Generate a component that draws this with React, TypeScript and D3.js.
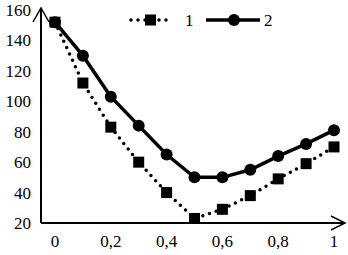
import { useEffect, useRef } from 'react';
import * as d3 from 'd3';

const xValues = [0, 0.1, 0.2, 0.3, 0.4, 0.5, 0.6, 0.7, 0.8, 0.9, 1];
const series1 = [152, 112, 83, 60, 40, 23, 29, 38, 49, 59, 70];
const series2 = [152, 130, 103, 84, 65, 50, 50, 55, 64, 72, 81];
const xTicks = [0, 0.2, 0.4, 0.6, 0.8, 1];
const yTicks = [20, 40, 60, 80, 100, 120, 140, 160];
const seriesNames = ['1', '2'];

export default function App() {
  const ref = useRef<SVGSVGElement>(null);

  useEffect(() => {
    const width = 348;
    const height = 255;
    const svg = d3.select(ref.current);
    svg.selectAll('*').remove();

    const x = d3.scaleLinear().domain([0, 1]).range([55, 334]);
    const y = d3.scaleLinear().domain([20, 160]).range([223, 10]);
    const font = '"Times New Roman", Times, "DejaVu Serif", serif';

    // axes with arrows
    const axisX = 41;
    const axisY = y(20);
    svg.append('line').attr('x1', axisX).attr('x2', axisX).attr('y1', axisY).attr('y2', 8)
      .attr('stroke', '#000').attr('stroke-width', 2);
    svg.append('path').attr('d', `M${axisX - 8},${22} L${axisX},${8} L${axisX + 8},${22}`)
      .attr('fill', 'none').attr('stroke', '#000').attr('stroke-width', 1.5);
    svg.append('line').attr('x1', axisX).attr('x2', 345).attr('y1', axisY).attr('y2', axisY)
      .attr('stroke', '#000').attr('stroke-width', 2);
    svg.append('path').attr('d', `M${331},${axisY - 7} L${345},${axisY} L${331},${axisY + 7}`)
      .attr('fill', 'none').attr('stroke', '#000').attr('stroke-width', 1.5);

    svg.append('g').selectAll('text').data(yTicks).join('text')
      .attr('x', 31).attr('y', d => y(d)).attr('dy', '0.35em')
      .attr('text-anchor', 'end').style('font-family', font).style('font-size', '17px')
      .text(d => d);
    svg.append('g').selectAll('text').data(xTicks).join('text')
      .attr('x', d => x(d)).attr('y', 247)
      .attr('text-anchor', 'middle').style('font-family', font).style('font-size', '17px')
      .text(d => d3.format('')(d).replace('.', ','));

    const line = d3.line<number>().x((_, i) => x(xValues[i])).y(d => y(d));

    // series 1: dotted with squares
    svg.append('path').datum(series1).attr('d', line).attr('fill', 'none')
      .attr('stroke', '#000').attr('stroke-width', 3.5)
      .attr('stroke-dasharray', '0 7').attr('stroke-linecap', 'round');
    svg.append('g').selectAll('rect').data(series1).join('rect')
      .attr('x', (_, i) => x(xValues[i]) - 5.5).attr('y', d => y(d) - 5.5)
      .attr('width', 11).attr('height', 11).attr('fill', '#000');

    // series 2: solid with circles
    svg.append('path').datum(series2).attr('d', line).attr('fill', 'none')
      .attr('stroke', '#000').attr('stroke-width', 3.5);
    svg.append('g').selectAll('circle').data(series2).join('circle')
      .attr('cx', (_, i) => x(xValues[i])).attr('cy', d => y(d)).attr('r', 6)
      .attr('fill', '#000');

    // legend
    const ly = 20;
    const leg = svg.append('g');
    leg.append('line').attr('x1', 131).attr('x2', 172).attr('y1', ly).attr('y2', ly)
      .attr('stroke', '#000').attr('stroke-width', 3.5)
      .attr('stroke-dasharray', '0 7').attr('stroke-linecap', 'round');
    leg.append('rect').attr('x', 145).attr('y', ly - 5.5).attr('width', 11).attr('height', 11).attr('fill', '#000');
    leg.append('text').attr('x', 185).attr('y', ly).attr('dy', '0.35em')
      .style('font-family', font).style('font-size', '17px').text(seriesNames[0]);
    leg.append('line').attr('x1', 206).attr('x2', 260).attr('y1', ly).attr('y2', ly)
      .attr('stroke', '#000').attr('stroke-width', 3.5);
    leg.append('circle').attr('cx', 234).attr('cy', ly).attr('r', 6).attr('fill', '#000');
    leg.append('text').attr('x', 264).attr('y', ly).attr('dy', '0.35em')
      .style('font-family', font).style('font-size', '17px').text(seriesNames[1]);

    svg.attr('width', width).attr('height', height);
  }, []);

  return (
    <svg ref={ref} width={348} height={255}
      style={{ position: 'absolute', left: 0, top: 0, background: '#fff' }} />
  );
}
